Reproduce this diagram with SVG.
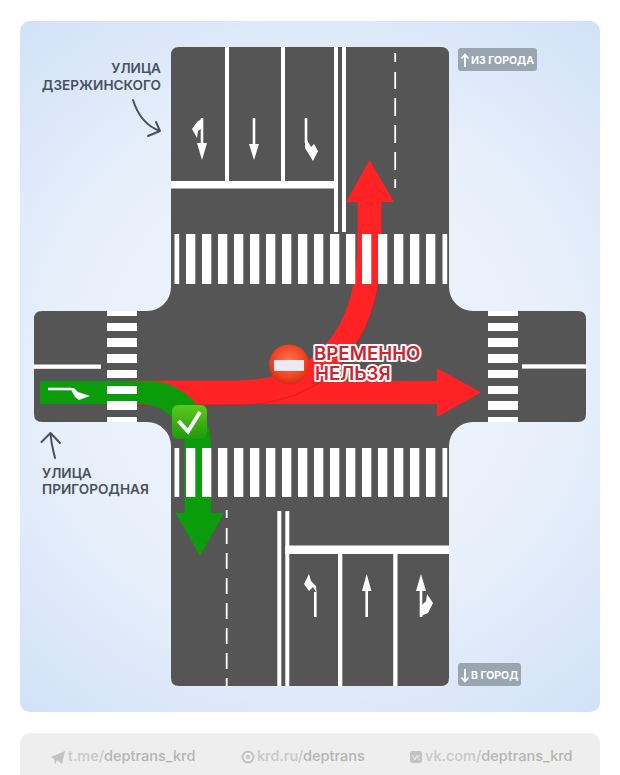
<svg xmlns="http://www.w3.org/2000/svg" width="620" height="775" viewBox="0 0 620 775">
<style>
.lbl{font-family:Inter,"Noto Sans","Liberation Sans",sans-serif;font-weight:600;font-size:13.6px;fill:#48525c}
.bdg{font-family:Inter,"Noto Sans","Liberation Sans",sans-serif;font-weight:700;font-size:10.500px;fill:#fff}
.warn{font-family:Inter,"Noto Sans","Liberation Sans",sans-serif;font-weight:600;font-size:18.700px;fill:#d2222e;stroke:#fff;stroke-width:4px;stroke-linejoin:round;paint-order:stroke}
.ft{font-family:Inter,"Noto Sans","Liberation Sans",sans-serif;font-weight:500;font-size:14.500px;fill:#c8c8c8}
.ft .d{fill:#b4b4b4}
.mk{fill:#fff}
.cur{fill:none;stroke:#48525c;stroke-width:2;stroke-linecap:round;stroke-linejoin:round}
.ar{fill:none;stroke:#fff;stroke-width:2.600}
</style>
<defs>
<radialGradient id="bg" gradientUnits="userSpaceOnUse" cx="310" cy="366" r="470">
<stop offset="0" stop-color="#f4f7fc"/><stop offset="0.55" stop-color="#e7effa"/><stop offset="1" stop-color="#cfe0f8"/>
</radialGradient>
<radialGradient id="sg" cx="0.5" cy="0.42" r="0.6">
<stop offset="0" stop-color="#ff7a52"/><stop offset="0.7" stop-color="#f0401f"/><stop offset="1" stop-color="#cf2a12"/>
</radialGradient>
<linearGradient id="cg" x1="0" y1="0" x2="0" y2="1">
<stop offset="0" stop-color="#5cc81e"/><stop offset="1" stop-color="#1e9a0a"/>
</linearGradient>
</defs>
<rect width="620" height="775" fill="#fff"/>
<rect id="panel" x="20" y="21" width="580" height="691" rx="10" fill="url(#bg)"/>
<path id="road" fill="#555555" d="M179 47H441Q449 47 449 55V287A24 24 0 0 0 473 311H578Q586 311 586 319V414Q586 422 578 422H473A24 24 0 0 0 449 446V678Q449 686 441 686H179Q171 686 171 678V446A24 24 0 0 0 147 422H42Q34 422 34 414V319Q34 311 42 311H147A24 24 0 0 0 171 287V55Q171 47 179 47Z"/>

<g id="connectors">
<g id="route-straight"><path d="M130 392.500H440" fill="none" stroke="#ff2326" stroke-width="23"/><polygon points="437,368 481,392.500 437,417" fill="#ff2326"/></g>
<g id="route-left">
<path d="M130 393.500H236C318 393.500 370.500 342 370.500 240V230" fill="none" stroke="#c91c22" stroke-opacity="0.6" stroke-width="24"/>
<path d="M130 392.500H236C318 392.500 369.500 340 369.500 240V200" fill="none" stroke="#ff2326" stroke-width="24"/>
<polygon points="369.500,160 394,202 346,202" fill="#ff2326"/>
</g>
<g id="route-right"><path d="M40 381H150C180 381 211 408 211 445V516H184.500V445C184.500 425 165 404 140 404H40Z" fill="#0b9c0b"/><polygon points="175.500,513 224,513 200,556" fill="#0b9c0b"/></g>
</g>

<g id="crossings" fill="#fff">
<path id="crossing-west" d="M107 311h30v5h-30zM107 323h30v8h-30zM107 338h30v9h-30zM107 354h30v9h-30zM107 370h30v8h-30zM107 386h30v8h-30zM107 401h30v9h-30zM107 417h30v5h-30z"/>
<path id="crossing-east" d="M488 311h30v5h-30zM488 323h30v8h-30zM488 338h30v9h-30zM488 354h30v9h-30zM488 370h30v8h-30zM488 386h30v8h-30zM488 401h30v9h-30zM488 417h30v5h-30z"/>
<path id="crossing-north" d="M174.500 234h4.700v50h-4.700zM186 234h9.300v50h-9.300zM202 234h9.300v50h-9.300zM218 234h9.300v50h-9.300zM234 234h9.300v50h-9.300zM250 234h9.300v50h-9.300zM266 234h9.300v50h-9.300zM282 234h9.300v50h-9.300zM298 234h9.300v50h-9.300zM314 234h9.300v50h-9.300zM330 234h9.300v50h-9.300zM346 234h9.300v50h-9.300zM362 234h9.300v50h-9.300zM378 234h9.300v50h-9.300zM394 234h9.300v50h-9.300zM410 234h9.300v50h-9.300zM426 234h9.300v50h-9.300zM442.500 234h4.700v50h-4.700z"/>
<path id="crossing-south" d="M174.500 448h4.700v49h-4.700zM186 448h9.300v49h-9.300zM202 448h9.300v49h-9.300zM218 448h9.300v49h-9.300zM234 448h9.300v49h-9.300zM250 448h9.300v49h-9.300zM266 448h9.300v49h-9.300zM282 448h9.300v49h-9.300zM298 448h9.300v49h-9.300zM314 448h9.300v49h-9.300zM330 448h9.300v49h-9.300zM346 448h9.300v49h-9.300zM362 448h9.300v49h-9.300zM378 448h9.300v49h-9.300zM394 448h9.300v49h-9.300zM410 448h9.300v49h-9.300zM426 448h9.300v49h-9.300zM442.500 448h4.700v49h-4.700z"/>
</g>

<g id="lines" fill="#fff">
<rect x="225" y="47" width="4" height="134"/>
<rect x="281" y="47" width="4" height="134"/>
<rect x="334" y="47" width="4" height="185"/>
<rect x="342" y="47" width="4" height="185"/>
<rect x="171" y="181" width="167" height="7.500"/>
<path d="M394.300 53h1.800v9h-1.800zM394.300 72h1.800v17h-1.800zM394.300 98h1.800v18h-1.800zM394.300 125h1.800v18h-1.800zM394.300 152h1.800v18h-1.800zM394.300 179h1.800v9h-1.800z"/>
<path d="M225.800 510h1.800v8h-1.800zM225.800 528h1.800v16h-1.800zM225.800 553h1.800v16h-1.800zM225.800 578h1.800v16h-1.800zM225.800 603h1.800v16h-1.800zM225.800 628h1.800v16h-1.800zM225.800 653h1.800v16h-1.800zM225.800 678h1.800v8h-1.800z"/>
<rect x="277.300" y="511" width="4" height="175"/>
<rect x="285.300" y="511" width="4" height="175"/>
<rect x="285.300" y="545.500" width="163.700" height="8.500"/>
<rect x="338" y="554" width="4.300" height="132"/>
<rect x="393.200" y="554" width="4.300" height="132"/>
<rect x="34" y="364.500" width="67" height="4.300"/>
<rect x="522" y="364.300" width="64" height="4.300"/>
</g>

<g id="lane-marks">
<g id="mark-n1"><path class="ar" d="M202 118V146"/><polygon class="mk" points="197,143 207,143 202,160"/><polygon class="mk" points="203,118 197,122 192,129 197,138 198,131 203,127"/></g>
<g id="mark-n2"><path class="ar" d="M254 118V146"/><polygon class="mk" points="249,144 259,144 254,160"/></g>
<g id="mark-n3"><path class="ar" d="M306 118V143"/><polygon class="mk" points="305,142 307,140 311,147 314,144 318,151 313,161 305,148"/></g>
<g id="mark-s1"><path class="ar" d="M315.300 617V592"/><polygon class="mk" points="309,574 311,581 316,586 316.600,593 313,587 309,591 304,584"/></g>
<g id="mark-s2"><path class="ar" d="M366.700 617V590"/><polygon class="mk" points="366.700,574 371.500,591 362,591"/></g>
<g id="mark-s3"><path class="ar" d="M421 617V590"/><polygon class="mk" points="421,574 426,591 416,591"/><polygon class="mk" points="421,616 428,613 433,603 427,594 426,601 420,607"/></g>
<g id="mark-w"><path class="ar" d="M48 389H71"/><polygon class="mk" points="70,388 74,388 78,392 90,396 79,400 75,397"/></g>
</g>

<g id="check"><rect x="172" y="405" width="35" height="34" rx="6" fill="url(#cg)"/><path d="M178.500 421L188 431.500L200 412" fill="none" stroke="#fff" stroke-width="4"/></g>
<g id="no-entry"><circle cx="289" cy="364.500" r="20" fill="url(#sg)"/><rect x="274" y="360" width="30" height="11" fill="#eceaf0"/></g>
<g id="warning"><text class="warn"><tspan x="314" y="359.500">ВРЕМЕННО</tspan><tspan x="315" y="379.500">НЕЛЬЗЯ</tspan></text></g>

<g id="label-north"><text class="lbl" x="161" y="73" text-anchor="end">УЛИЦА</text><text class="lbl" x="161" y="90" text-anchor="end">ДЗЕРЖИНСКОГО</text><path class="cur" d="M133 100C138 116 146 126 160 131M148 136L160 131L156 122"/></g>
<g id="label-west"><text class="lbl" x="42" y="478">УЛИЦА</text><text class="lbl" x="42" y="494">ПРИГОРОДНАЯ</text><path class="cur" d="M55 458C53 450 51 442 50.500 433M41.500 442L50.500 433L60 443"/></g>

<g id="badge-out"><rect x="458" y="48" width="79" height="23" rx="3" fill="#9aa5b2"/><path d="M465 67V55M461.500 58.500L465 54.500L468.500 58.500" fill="none" stroke="#fff" stroke-width="1.800"/><text class="bdg" x="471" y="64">ИЗ ГОРОДА</text></g>
<g id="badge-in"><rect x="458" y="663" width="63" height="23" rx="3" fill="#9aa5b2"/><path d="M465 669V681M461.500 677.500L465 681.500L468.500 677.500" fill="none" stroke="#fff" stroke-width="1.800"/><text class="bdg" x="471" y="679">В ГОРОД</text></g>

<g id="footer">
<rect x="20" y="733" width="580" height="60" rx="10" fill="#eeeeee"/>
<polygon points="51,757 65,751 62,764 57,760 55,765 54,759" fill="#c2c2c2"/>
<text class="ft" x="68" y="761">t.me/<tspan class="d">deptrans_krd</tspan></text>
<circle cx="248" cy="757" r="5.500" fill="none" stroke="#c2c2c2" stroke-width="2"/><circle cx="248" cy="757" r="2" fill="#c2c2c2"/>
<text class="ft" x="257" y="761">krd.ru/<tspan class="d">deptrans</tspan></text>
<rect x="410" y="751" width="12" height="12" rx="3" fill="#c2c2c2"/><path d="M412.500 755L415 760L417 755M417 757.500L420 755M417 757.500L420 760" fill="none" stroke="#eee" stroke-width="1"/>
<text class="ft" x="425" y="761">vk.com/<tspan class="d">deptrans_krd</tspan></text>
</g>
</svg>
